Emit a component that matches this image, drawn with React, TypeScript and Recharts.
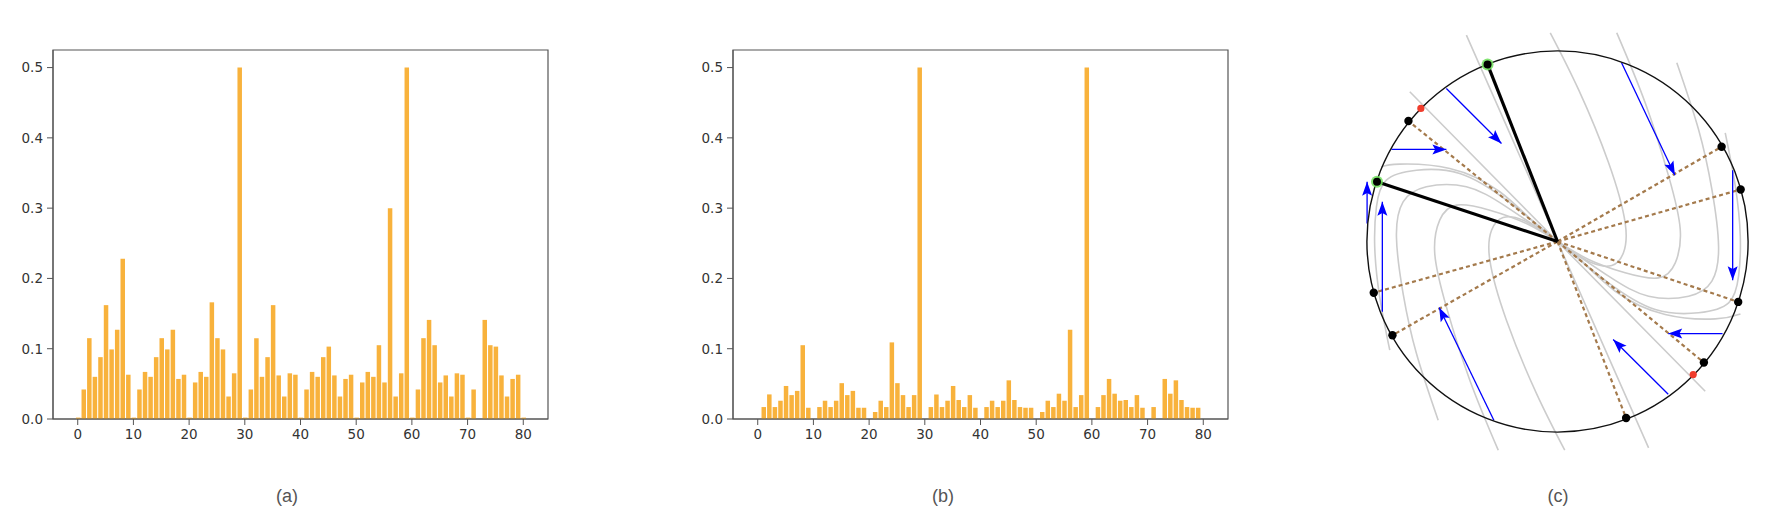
import React from 'react';
import {
  BarChart,
  Bar,
  XAxis,
  YAxis,
  ReferenceArea,
  ScatterChart,
  Scatter,
} from 'recharts';

// ---- panels (a) and (b): bar heights per index ----
const positions = [
  0, 1, 2, 3, 4, 5, 6, 7, 8, 9, 10, 11, 12, 13, 14, 15, 16, 17, 18, 19, 20,
  21, 22, 23, 24, 25, 26, 27, 28, 29, 30, 31, 32, 33, 34, 35, 36, 37, 38, 39, 40,
  41, 42, 43, 44, 45, 46, 47, 48, 49, 50, 51, 52, 53, 54, 55, 56, 57, 58, 59, 60,
  61, 62, 63, 64, 65, 66, 67, 68, 69, 70, 71, 72, 73, 74, 75, 76, 77, 78, 79, 80,
];

const weightsA = [
  0.002, 0.042, 0.115, 0.06, 0.088, 0.162, 0.099, 0.127, 0.228, 0.063,
  0.002, 0.042, 0.067, 0.06, 0.088, 0.115, 0.099, 0.127, 0.057, 0.063,
  0.002, 0.052, 0.067, 0.06, 0.166, 0.115, 0.099, 0.032, 0.065, 0.5,
  0.002, 0.042, 0.115, 0.06, 0.088, 0.162, 0.062, 0.032, 0.065, 0.063,
  0.002, 0.042, 0.067, 0.06, 0.088, 0.103, 0.062, 0.032, 0.057, 0.063,
  0.002, 0.052, 0.067, 0.06, 0.105, 0.052, 0.3, 0.032, 0.065, 0.5,
  0.002, 0.042, 0.115, 0.141, 0.105, 0.052, 0.062, 0.032, 0.065, 0.063,
  0.002, 0.042, 0, 0.141, 0.105, 0.103, 0.062, 0.032, 0.057, 0.063,
  0.002,
];

const weightsB = [
  0, 0.017, 0.035, 0.017, 0.026, 0.047, 0.034, 0.04, 0.105, 0.016,
  0, 0.017, 0.026, 0.017, 0.026, 0.051, 0.034, 0.04, 0.016, 0.016,
  0, 0.01, 0.026, 0.017, 0.109, 0.051, 0.034, 0.017, 0.034, 0.5,
  0, 0.017, 0.035, 0.017, 0.026, 0.047, 0.027, 0.017, 0.034, 0.016,
  0, 0.017, 0.026, 0.017, 0.026, 0.055, 0.027, 0.017, 0.016, 0.016,
  0, 0.01, 0.026, 0.017, 0.036, 0.026, 0.127, 0.017, 0.034, 0.5,
  0, 0.017, 0.034, 0.057, 0.036, 0.026, 0.027, 0.017, 0.034, 0.016,
  0, 0.017, 0, 0.057, 0.036, 0.055, 0.027, 0.017, 0.016, 0.016,
  0,
];

const xTicks = [0, 10, 20, 30, 40, 50, 60, 70, 80];
const yTicks = [0, 0.1, 0.2, 0.3, 0.4, 0.5];
const captions = ['(a)', '(b)', '(c)'];

// ---- panel (c): coordinates on the unit disc ----
const boundaryDots = [
  [-0.782, 0.632], [0.861, 0.497], [0.961, 0.273], [0.948, -0.317],
  [0.768, -0.635], [0.36, -0.926], [-0.964, -0.269], [-0.866, -0.492],
];
const pickedDots = [[-0.367, 0.929], [-0.947, 0.313]];
const redDots = [[-0.717, 0.698], [0.712, -0.698]];

const flowCurves = [
  [[-0.478, 1.083], [0, 0], [0.478, -1.083]],
  [[-0.775, 0.786], [0, 0], [0.775, -0.786]],
  [
    [0.038, -1.095], [-0.11, -0.798], [-0.268, -0.413], [-0.355, -0.098], [-0.346, 0.059],
    [-0.285, 0.126], [-0.18, 0.112], [-0.075, 0.051], [0, 0], [0.075, -0.051], [0.18, -0.112],
    [0.285, -0.126], [0.346, -0.059], [0.355, 0.098], [0.268, 0.413], [0.11, 0.798], [-0.038, 1.095],
  ],
  [
    [-0.311, -1.095], [-0.46, -0.728], [-0.583, -0.343], [-0.644, -0.063], [-0.618, 0.112],
    [-0.53, 0.191], [-0.355, 0.164], [-0.163, 0.094], [0, 0], [0.163, -0.094], [0.355, -0.164],
    [0.53, -0.191], [0.618, -0.112], [0.644, 0.063], [0.583, 0.343], [0.46, 0.728], [0.311, 1.095],
  ],
  [
    [-0.626, -0.938], [-0.74, -0.588], [-0.81, -0.273], [-0.845, 0.024], [-0.81, 0.208],
    [-0.688, 0.287], [-0.478, 0.287], [-0.268, 0.182], [0, 0], [0.268, -0.182], [0.478, -0.287],
    [0.688, -0.287], [0.81, -0.208], [0.845, -0.024], [0.81, 0.273], [0.74, 0.588], [0.626, 0.938],
  ],
  [
    [-0.88, -0.57], [-0.933, -0.29], [-0.959, -0.028], [-0.95, 0.182], [-0.898, 0.322],
    [-0.74, 0.374], [-0.513, 0.357], [-0.268, 0.217], [0, 0], [0.268, -0.217], [0.513, -0.357],
    [0.74, -0.374], [0.898, -0.322], [0.95, -0.182], [0.959, 0.028], [0.933, 0.29], [0.88, 0.57],
  ],
  [
    [-0.924, 0.392], [-0.828, 0.406], [-0.565, 0.383], [-0.303, 0.261], [-0.11, 0.086], [0, 0],
    [0.11, -0.086], [0.303, -0.261], [0.565, -0.383], [0.828, -0.406], [0.96, -0.38],
  ],
];

// start x, start y, tip x, tip y
const arrows = [
  [-0.583, 0.803, -0.294, 0.514],
  [-0.871, 0.483, -0.583, 0.483],
  [-0.999, 0.094, -0.999, 0.313],
  [-0.919, -0.369, -0.919, 0.208],
  [-0.334, -0.938, -0.621, -0.346],
  [0.581, -0.801, 0.292, -0.514],
  [0.866, -0.483, 0.581, -0.483],
  [0.919, 0.374, 0.919, -0.203],
  [0.336, 0.938, 0.616, 0.348],
];

const BAR_COLOR = '#f8b23c';
const SPINE = '#555';
const tickStyle = { fontFamily: 'DejaVu Sans', fontSize: 13.5, fill: '#333' };

const C_W = 427;
const C_H = 473;
const UNIT = 190.6;
const xHalf = C_W / 2 / UNIT;
const yHalf = C_H / 2 / UNIT;

const Empty = () => <g />;

const WeightBars: React.FC<{ values: number[]; left: number }> = ({ values, left }) => {
  const data = positions.map((x, i) => ({ x, v: values[i] }));
  return (
    <div style={{ position: 'absolute', left, top: 0 }}>
      <BarChart width={560} height={460} data={data} margin={{ top: 50, right: 12, bottom: 11, left: 0 }}>
        <XAxis
          type="number"
          dataKey="x"
          domain={[-4.44, 84.44]}
          ticks={xTicks}
          allowDataOverflow
          height={30}
          tickSize={6}
          tickMargin={4}
          stroke={SPINE}
          tick={tickStyle}
        />
        <YAxis
          type="number"
          domain={[0, 0.525]}
          ticks={yTicks}
          allowDataOverflow
          width={53}
          tickSize={6}
          tickMargin={4}
          stroke={SPINE}
          tick={tickStyle}
          tickFormatter={(v: number) => v.toFixed(1)}
        />
        <ReferenceArea
          x1={-4.44}
          x2={84.44}
          y1={0}
          y2={0.525}
          fill="none"
          stroke={SPINE}
          strokeWidth={1.2}
          ifOverflow="visible"
        />
        <Bar dataKey="v" fill={BAR_COLOR} barSize={4.5} isAnimationActive={false} />
      </BarChart>
    </div>
  );
};

const toPts = (pts: number[][]) => pts.map(([x, y]) => ({ x, y }));

const ArrowTip = (props: any) => {
  const p = props.payload;
  if (!p || !p.tip) return <g />;
  const ang = Math.atan2(-p.dy, p.dx);
  const c = Math.cos(ang);
  const s = Math.sin(ang);
  const L = 14;
  const W = 5;
  const bx = props.cx - L * c;
  const by = props.cy - L * s;
  const nx = props.cx - L * 0.8 * c;
  const ny = props.cy - L * 0.8 * s;
  const pts = [
    [props.cx, props.cy],
    [bx - W * s, by + W * c],
    [nx, ny],
    [bx + W * s, by - W * c],
  ];
  return <polygon points={pts.map((q) => q.join(',')).join(' ')} fill="#0000ff" />;
};

const DiscPanel: React.FC = () => (
  <div style={{ position: 'absolute', left: 1344, top: 5 }}>
    <ScatterChart width={C_W} height={C_H} margin={{ top: 0, right: 0, bottom: 0, left: 0 }}>
      <XAxis type="number" dataKey="x" domain={[-xHalf, xHalf]} allowDataOverflow hide />
      <YAxis type="number" dataKey="y" domain={[-yHalf, yHalf]} allowDataOverflow hide width={0} />
      {flowCurves.map((c, i) => (
        <Scatter
          key={`flow${i}`}
          data={toPts(c)}
          line={{ stroke: '#cccccc', strokeWidth: 1.6 }}
          lineJointType="natural"
          shape={Empty}
          isAnimationActive={false}
        />
      ))}
      {boundaryDots.map((d, i) => (
        <Scatter
          key={`ray${i}`}
          data={toPts([[0, 0], d])}
          line={{ stroke: '#a47a4c', strokeWidth: 2.2, strokeDasharray: '4 3' }}
          shape={Empty}
          isAnimationActive={false}
        />
      ))}
      {pickedDots.map((d, i) => (
        <Scatter
          key={`pick${i}`}
          data={toPts([[0, 0], d])}
          line={{ stroke: '#000', strokeWidth: 3.2 }}
          shape={Empty}
          isAnimationActive={false}
        />
      ))}
      {arrows.map((a, i) => (
        <Scatter
          key={`arr${i}`}
          data={[
            { x: a[0], y: a[1] },
            { x: a[2], y: a[3], tip: true, dx: a[2] - a[0], dy: a[3] - a[1] },
          ]}
          line={{ stroke: '#0000ff', strokeWidth: 1.3 }}
          shape={ArrowTip}
          isAnimationActive={false}
        />
      ))}
      <Scatter
        data={[{ x: 0, y: 0 }]}
        shape={(p: any) => <circle cx={p.cx} cy={p.cy} r={UNIT} fill="none" stroke="#111" strokeWidth={1.4} />}
        isAnimationActive={false}
      />
      <Scatter
        data={toPts(redDots)}
        shape={(p: any) => <circle cx={p.cx} cy={p.cy} r={3.6} fill="#f03c2c" />}
        isAnimationActive={false}
      />
      <Scatter
        data={toPts(boundaryDots)}
        shape={(p: any) => <circle cx={p.cx} cy={p.cy} r={4.2} fill="#000" />}
        isAnimationActive={false}
      />
      <Scatter
        data={toPts(pickedDots)}
        shape={(p: any) => (
          <g>
            <circle cx={p.cx} cy={p.cy} r={6} fill="#6ee05a" opacity={0.85} />
            <circle cx={p.cx} cy={p.cy} r={4} fill="#000" />
          </g>
        )}
        isAnimationActive={false}
      />
    </ScatterChart>
  </div>
);

const captionX = [287, 943, 1558];

export default function App() {
  return (
    <div
      style={{
        position: 'absolute',
        left: 0,
        top: 0,
        width: 1781,
        height: 520,
        background: '#fff',
        overflow: 'hidden',
      }}
    >
      <WeightBars values={weightsA} left={0} />
      <WeightBars values={weightsB} left={680} />
      <DiscPanel />
      {captions.map((t, i) => (
        <div
          key={t}
          style={{
            position: 'absolute',
            left: captionX[i] - 30,
            width: 60,
            top: 484,
            textAlign: 'center',
            fontFamily: 'Liberation Sans, Arial, sans-serif',
            fontSize: 18,
            color: '#555',
            lineHeight: '24px',
          }}
        >
          {t}
        </div>
      ))}
    </div>
  );
}
